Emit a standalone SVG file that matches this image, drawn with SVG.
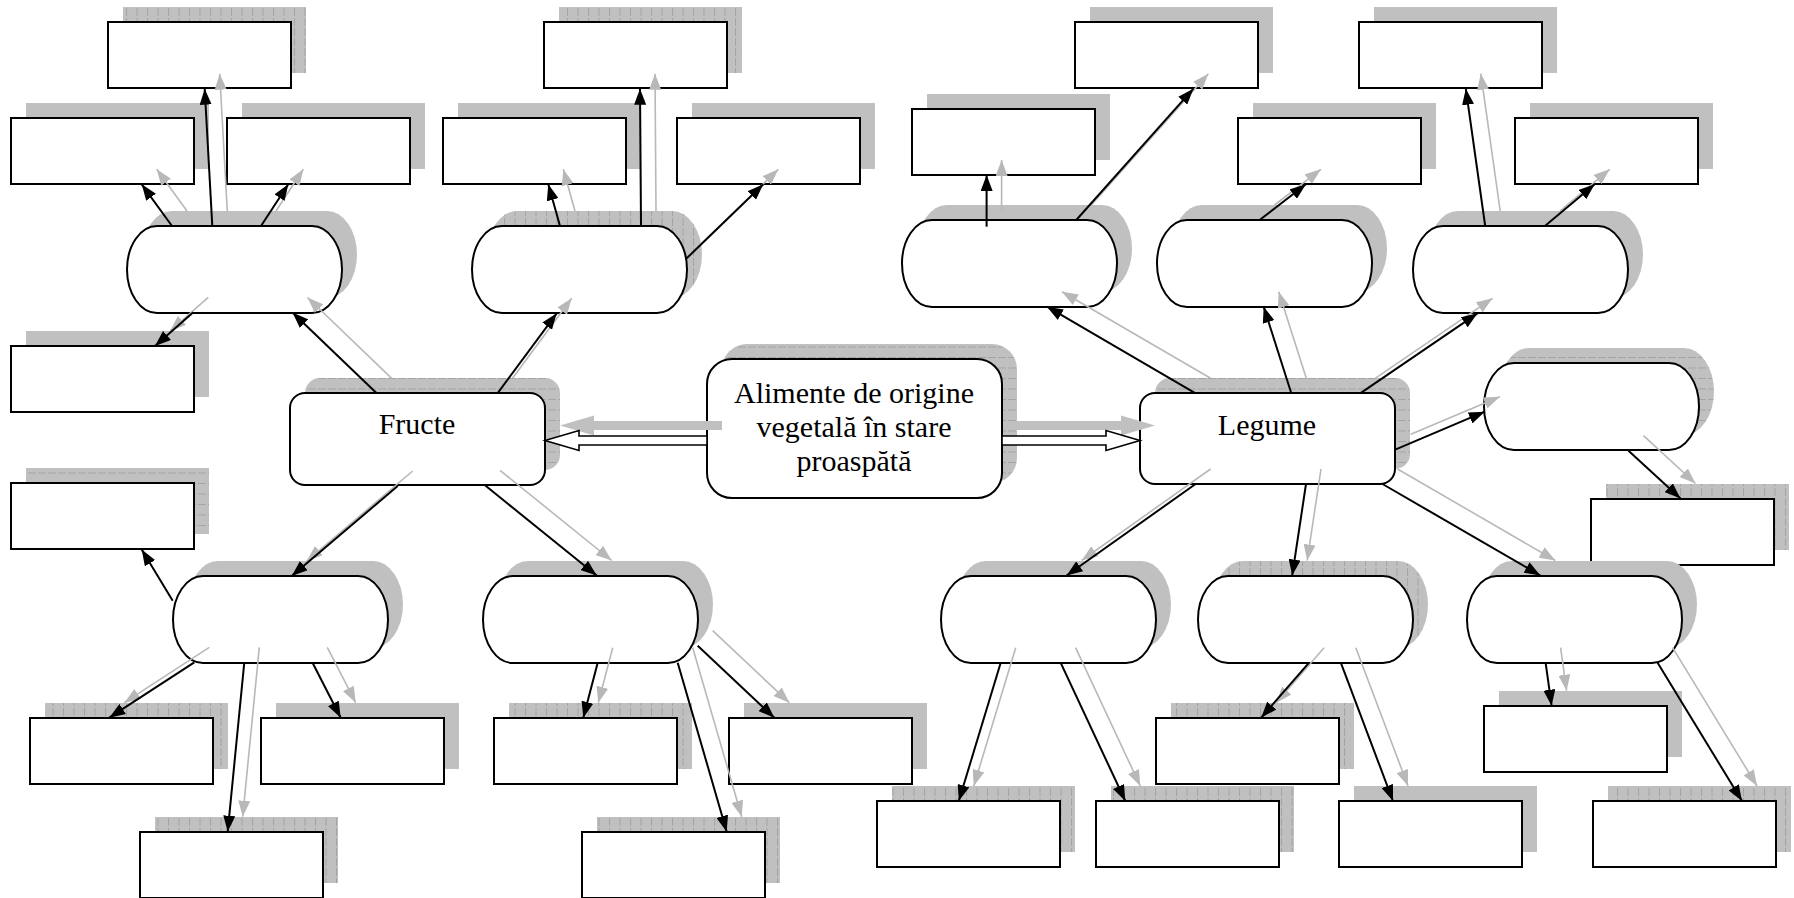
<svg xmlns="http://www.w3.org/2000/svg" width="1794" height="898" viewBox="0 0 1794 898">
<style>
.box{fill:#fff;stroke:#000;stroke-width:2}
.sh{fill:#c0c0c0;stroke:none}
.shv{fill:url(#pv);stroke:none}
.shh{fill:url(#ph);stroke:none}
.bl{stroke:#000;stroke-width:2;fill:none;marker-end:url(#ab)}
.gl{stroke:#b8b8b8;stroke-width:1.6;fill:none;marker-end:url(#ag)}
.txt{font-family:"Liberation Serif","Times New Roman",serif;font-size:30px;fill:#000;text-anchor:middle}
.blk{fill:#fff;stroke:#000;stroke-width:1.6}
.blks{fill:#c0c0c0;stroke:none}
</style>
<defs>
<pattern id="pv" width="10.5" height="10" patternUnits="userSpaceOnUse">
<rect width="10.5" height="10" fill="#c0c0c0"/>
<line x1="0.5" y1="0" x2="0.5" y2="10" stroke="#a4a4a4" stroke-width="1" stroke-dasharray="6 2"/>
</pattern>
<pattern id="ph" width="10" height="10.5" patternUnits="userSpaceOnUse">
<rect width="10" height="10.5" fill="#c0c0c0"/>
<line x1="0" y1="0.5" x2="10" y2="0.5" stroke="#a4a4a4" stroke-width="1" stroke-dasharray="6 2"/>
</pattern>
<marker id="ab" markerWidth="16" markerHeight="12" refX="16" refY="6" orient="auto" markerUnits="userSpaceOnUse">
<path d="M0,0 L16,6 L0,12 z" fill="#000"/>
</marker>
<marker id="ag" markerWidth="16" markerHeight="12" refX="16" refY="6" orient="auto" markerUnits="userSpaceOnUse">
<path d="M0,0 L16,6 L0,12 z" fill="#b8b8b8"/>
</marker>
</defs>
<rect width="1794" height="898" fill="#fff"/>

<g id="nodes">
<!-- left top cluster -->
<g id="A1"><rect class="shv" x="123" y="7" width="183" height="66"/><rect class="box" x="108" y="22" width="183" height="66"/></g>
<g id="A2"><rect class="sh" x="26" y="103" width="183" height="66"/><rect class="box" x="11" y="118" width="183" height="66"/></g>
<g id="A3"><rect class="sh" x="242" y="103" width="183" height="66"/><rect class="box" x="227" y="118" width="183" height="66"/></g>
<g id="O1"><rect class="sh" x="142" y="211" width="215" height="87" rx="30" ry="43.5"/><rect class="box" x="127" y="226" width="215" height="87" rx="30" ry="43.5"/></g>
<g id="A4"><rect class="sh" x="26" y="331" width="183" height="66"/><rect class="box" x="11" y="346" width="183" height="66"/></g>

<g id="B1"><rect class="shv" x="559" y="7" width="183" height="66"/><rect class="box" x="544" y="22" width="183" height="66"/></g>
<g id="B2"><rect class="sh" x="458" y="103" width="183" height="66"/><rect class="box" x="443" y="118" width="183" height="66"/></g>
<g id="B3"><rect class="sh" x="692" y="103" width="183" height="66"/><rect class="box" x="677" y="118" width="183" height="66"/></g>
<g id="O2"><rect class="shv" x="487" y="211" width="215" height="87" rx="30" ry="43.5"/><rect class="box" x="472" y="226" width="215" height="87" rx="30" ry="43.5"/></g>

<!-- left bottom cluster -->
<g id="A5"><rect class="shh" x="26" y="468" width="183" height="66"/><rect class="box" x="11" y="483" width="183" height="66"/></g>
<g id="O3"><rect class="sh" x="188" y="561" width="215" height="87" rx="30" ry="43.5"/><rect class="box" x="173" y="576" width="215" height="87" rx="30" ry="43.5"/></g>
<g id="A6"><rect class="shv" x="45" y="703" width="183" height="66"/><rect class="box" x="30" y="718" width="183" height="66"/></g>
<g id="A7"><rect class="sh" x="276" y="703" width="183" height="66"/><rect class="box" x="261" y="718" width="183" height="66"/></g>
<g id="A8"><rect class="shv" x="155" y="817" width="183" height="66"/><rect class="box" x="140" y="832" width="183" height="66"/></g>

<g id="O4"><rect class="sh" x="498" y="561" width="215" height="87" rx="30" ry="43.5"/><rect class="box" x="483" y="576" width="215" height="87" rx="30" ry="43.5"/></g>
<g id="B4"><rect class="shv" x="509" y="703" width="183" height="66"/><rect class="box" x="494" y="718" width="183" height="66"/></g>
<g id="B5"><rect class="sh" x="744" y="703" width="183" height="66"/><rect class="box" x="729" y="718" width="183" height="66"/></g>
<g id="B6"><rect class="shv" x="597" y="817" width="183" height="66"/><rect class="box" x="582" y="832" width="183" height="66"/></g>

<!-- main nodes -->
<g id="Fructe"><rect class="shh" x="305" y="378" width="255" height="92" rx="15"/><rect class="box" x="290" y="393" width="255" height="92" rx="15"/><text class="txt" x="417" y="434">Fructe</text></g>
<g id="Center"><rect class="shh" x="722" y="344" width="295" height="139" rx="25"/><rect class="box" x="707" y="359" width="295" height="139" rx="25"/>
<text class="txt" x="854" y="403">Alimente de origine</text>
<text class="txt" x="854" y="437">vegetală în stare</text>
<text class="txt" x="854" y="471">proaspătă</text></g>
<g id="Legume"><rect class="shh" x="1155" y="378" width="255" height="91" rx="15"/><rect class="box" x="1140" y="393" width="255" height="91" rx="15"/><text class="txt" x="1267" y="435">Legume</text></g>

<!-- right top cluster -->
<g id="C1"><rect class="sh" x="1090" y="7" width="183" height="66"/><rect class="box" x="1075" y="22" width="183" height="66"/></g>
<g id="C2"><rect class="sh" x="927" y="94" width="183" height="66"/><rect class="box" x="912" y="109" width="183" height="66"/></g>
<g id="C3"><rect class="sh" x="1374" y="7" width="183" height="66"/><rect class="box" x="1359" y="22" width="183" height="66"/></g>
<g id="C4"><rect class="sh" x="1253" y="103" width="183" height="66"/><rect class="box" x="1238" y="118" width="183" height="66"/></g>
<g id="C5"><rect class="sh" x="1530" y="103" width="183" height="66"/><rect class="box" x="1515" y="118" width="183" height="66"/></g>
<g id="OR1"><rect class="sh" x="917" y="205" width="215" height="87" rx="30" ry="43.5"/><rect class="box" x="902" y="220" width="215" height="87" rx="30" ry="43.5"/></g>
<g id="OR2"><rect class="sh" x="1172" y="205" width="215" height="87" rx="30" ry="43.5"/><rect class="box" x="1157" y="220" width="215" height="87" rx="30" ry="43.5"/></g>
<g id="OR3"><rect class="sh" x="1428" y="211" width="215" height="87" rx="30" ry="43.5"/><rect class="box" x="1413" y="226" width="215" height="87" rx="30" ry="43.5"/></g>
<g id="OR4"><rect class="shh" x="1499" y="348" width="215" height="87" rx="30" ry="43.5"/><rect class="box" x="1484" y="363" width="215" height="87" rx="30" ry="43.5"/></g>
<g id="C6"><rect class="shv" x="1606" y="484" width="183" height="66"/><rect class="box" x="1591" y="499" width="183" height="66"/></g>

<!-- right bottom cluster -->
<g id="O5"><rect class="sh" x="956" y="561" width="215" height="87" rx="30" ry="43.5"/><rect class="box" x="941" y="576" width="215" height="87" rx="30" ry="43.5"/></g>
<g id="O6"><rect class="shv" x="1213" y="561" width="215" height="87" rx="30" ry="43.5"/><rect class="box" x="1198" y="576" width="215" height="87" rx="30" ry="43.5"/></g>
<g id="O7"><rect class="sh" x="1482" y="561" width="215" height="87" rx="30" ry="43.5"/><rect class="box" x="1467" y="576" width="215" height="87" rx="30" ry="43.5"/></g>
<g id="D1"><rect class="shv" x="892" y="786" width="183" height="66"/><rect class="box" x="877" y="801" width="183" height="66"/></g>
<g id="D2"><rect class="shv" x="1111" y="786" width="183" height="66"/><rect class="box" x="1096" y="801" width="183" height="66"/></g>
<g id="D3"><rect class="shv" x="1171" y="703" width="183" height="66"/><rect class="box" x="1156" y="718" width="183" height="66"/></g>
<g id="D4"><rect class="sh" x="1354" y="786" width="183" height="66"/><rect class="box" x="1339" y="801" width="183" height="66"/></g>
<g id="D5"><rect class="sh" x="1499" y="691" width="183" height="66"/><rect class="box" x="1484" y="706" width="183" height="66"/></g>
<g id="D6"><rect class="shv" x="1608" y="786" width="183" height="66"/><rect class="box" x="1593" y="801" width="183" height="66"/></g>
</g>

<g id="connectors">
<!-- block arrows from center -->
<polygon class="blks" points="560,425.5 594,415.5 594,421 722,421 722,430 594,430 594,435.5"/>
<polygon class="blk" points="545,440.5 579,430.5 579,436 707,436 707,445 579,445 579,450.5"/>
<polygon class="blks" points="1017,421 1121,421 1121,415.5 1155,425.5 1121,435.5 1121,430 1017,430"/>
<polygon class="blk" points="1002,436 1106,436 1106,430.5 1140,440.5 1106,450.5 1106,445 1002,445"/>

<g id="shadow-arrows">
<line class="gl" x1="391.7" y1="378.3" x2="307.5" y2="297.5"/>
<line class="gl" x1="512.5" y1="378.3" x2="571.7" y2="298.3"/>
<line class="gl" x1="412.7" y1="471" x2="306.7" y2="561"/>
<line class="gl" x1="500" y1="470.3" x2="611.7" y2="560.5"/>
<line class="gl" x1="187" y1="211" x2="156.7" y2="169.3"/>
<line class="gl" x1="227.3" y1="211" x2="219.7" y2="73.7"/>
<line class="gl" x1="276" y1="211" x2="303.3" y2="169.3"/>
<line class="gl" x1="208.3" y1="297.3" x2="170" y2="331"/>
<line class="gl" x1="575" y1="211" x2="563.3" y2="169.3"/>
<line class="gl" x1="656" y1="211" x2="655" y2="73.7"/>
<line class="gl" x1="701.7" y1="243.3" x2="778.3" y2="169.3"/>
<line class="gl" x1="209.3" y1="647.3" x2="124.3" y2="702.7"/>
<line class="gl" x1="259.3" y1="647.3" x2="242.7" y2="816.7"/>
<line class="gl" x1="327.3" y1="647.3" x2="355.7" y2="702.7"/>
<line class="gl" x1="612.7" y1="647.7" x2="598.3" y2="702.7"/>
<line class="gl" x1="692.7" y1="647.7" x2="741.7" y2="816.7"/>
<line class="gl" x1="712.7" y1="630.7" x2="789.3" y2="702.7"/>
<line class="gl" x1="1210.6" y1="378.3" x2="1062" y2="291.7"/>
<line class="gl" x1="1306.3" y1="378.3" x2="1278.7" y2="291.7"/>
<line class="gl" x1="1375.2" y1="378.3" x2="1492.5" y2="298.3"/>
<line class="gl" x1="1410.8" y1="434.3" x2="1499.8" y2="396.7"/>
<line class="gl" x1="1210.6" y1="469" x2="1081.6" y2="560.5"/>
<line class="gl" x1="1321" y1="469" x2="1307.2" y2="560.5"/>
<line class="gl" x1="1397.5" y1="469" x2="1555.4" y2="560.5"/>
<line class="gl" x1="1001.6" y1="211.7" x2="1001.6" y2="160"/>
<line class="gl" x1="1091.3" y1="205" x2="1208.4" y2="73.7"/>
<line class="gl" x1="1274.6" y1="205" x2="1320.9" y2="169.3"/>
<line class="gl" x1="1500.2" y1="211" x2="1480.8" y2="73.7"/>
<line class="gl" x1="1559.9" y1="211" x2="1609.7" y2="169.3"/>
<line class="gl" x1="1643.5" y1="435.7" x2="1695.5" y2="483.5"/>
<line class="gl" x1="1015.7" y1="647.7" x2="973.8" y2="786"/>
<line class="gl" x1="1075.6" y1="647.7" x2="1140.3" y2="786"/>
<line class="gl" x1="1324.1" y1="647.7" x2="1276.2" y2="702.7"/>
<line class="gl" x1="1355.8" y1="647.7" x2="1408" y2="786"/>
<line class="gl" x1="1560.6" y1="647.7" x2="1566.6" y2="690.7"/>
<line class="gl" x1="1672.6" y1="647.7" x2="1757" y2="786"/>
</g>

<g id="arrows">
<line class="bl" x1="376.7" y1="393.3" x2="292.5" y2="312.5"/>
<line class="bl" x1="497.5" y1="393.3" x2="556.7" y2="313.3"/>
<line class="bl" x1="397.7" y1="486" x2="291.7" y2="576"/>
<line class="bl" x1="485" y1="485.3" x2="596.7" y2="575.5"/>
<line class="bl" x1="172" y1="226" x2="141.7" y2="184.3"/>
<line class="bl" x1="212.3" y1="226" x2="204.7" y2="88.7"/>
<line class="bl" x1="261" y1="226" x2="288.3" y2="184.3"/>
<line class="bl" x1="193.3" y1="312.3" x2="155" y2="346"/>
<line class="bl" x1="560" y1="226" x2="548.3" y2="184.3"/>
<line class="bl" x1="641" y1="226" x2="640" y2="88.7"/>
<line class="bl" x1="686.7" y1="258.3" x2="763.3" y2="184.3"/>
<line class="bl" x1="172.7" y1="600.7" x2="141.7" y2="549.5"/>
<line class="bl" x1="194.3" y1="662.3" x2="109.3" y2="717.7"/>
<line class="bl" x1="244.3" y1="662.3" x2="227.7" y2="831.7"/>
<line class="bl" x1="312.3" y1="662.3" x2="340.7" y2="717.7"/>
<line class="bl" x1="597.7" y1="662.7" x2="583.3" y2="717.7"/>
<line class="bl" x1="677.7" y1="662.7" x2="726.7" y2="831.7"/>
<line class="bl" x1="697.7" y1="645.7" x2="774.3" y2="717.7"/>
<line class="bl" x1="1195.6" y1="393.3" x2="1047" y2="306.7"/>
<line class="bl" x1="1291.3" y1="393.3" x2="1263.7" y2="306.7"/>
<line class="bl" x1="1360.2" y1="393.3" x2="1477.5" y2="313.3"/>
<line class="bl" x1="1395.8" y1="449.3" x2="1484.8" y2="411.7"/>
<line class="bl" x1="1195.6" y1="484" x2="1066.6" y2="575.5"/>
<line class="bl" x1="1306" y1="484" x2="1292.2" y2="575.5"/>
<line class="bl" x1="1382.5" y1="484" x2="1540.4" y2="575.5"/>
<line class="bl" x1="986.6" y1="226.7" x2="986.6" y2="175"/>
<line class="bl" x1="1076.3" y1="220" x2="1193.4" y2="88.7"/>
<line class="bl" x1="1259.6" y1="220" x2="1305.9" y2="184.3"/>
<line class="bl" x1="1485.2" y1="226" x2="1465.8" y2="88.7"/>
<line class="bl" x1="1544.9" y1="226" x2="1594.7" y2="184.3"/>
<line class="bl" x1="1628.5" y1="450.7" x2="1680.5" y2="498.5"/>
<line class="bl" x1="1000.7" y1="662.7" x2="958.8" y2="801"/>
<line class="bl" x1="1060.6" y1="662.7" x2="1125.3" y2="801"/>
<line class="bl" x1="1309.1" y1="662.7" x2="1261.2" y2="717.7"/>
<line class="bl" x1="1340.8" y1="662.7" x2="1393" y2="801"/>
<line class="bl" x1="1545.6" y1="662.7" x2="1551.6" y2="705.7"/>
<line class="bl" x1="1657.6" y1="662.7" x2="1742" y2="801"/>
</g>
</g>
</svg>
